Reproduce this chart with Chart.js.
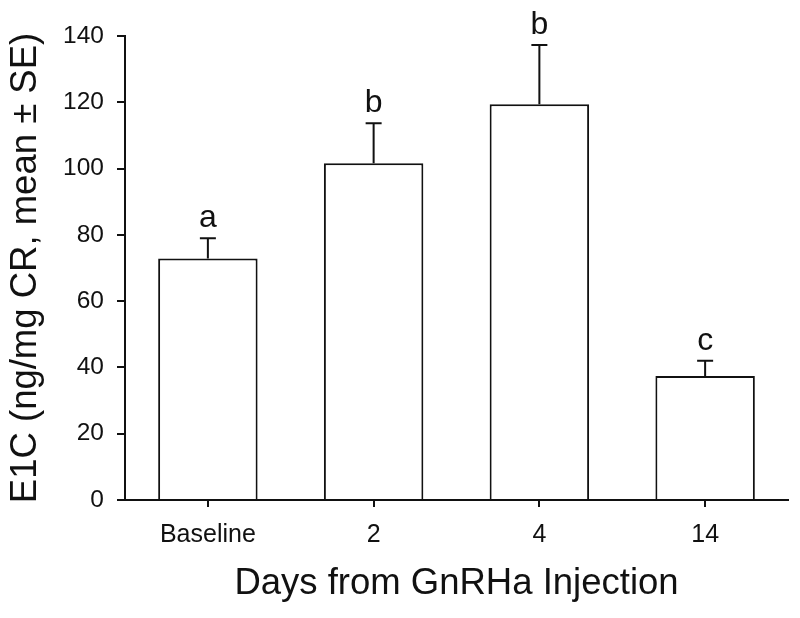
<!DOCTYPE html>
<html>
<head>
<meta charset="utf-8">
<script src="https://cdn.jsdelivr.net/npm/chart.js@4"></script>
<style>
  html, body { margin: 0; padding: 0; background: #fff; }
  #wrap { width: 800px; height: 618px; }
</style>
</head>
<body>
<div id="wrap"><canvas id="myChart" width="800" height="618"></canvas></div>
<script>
'use strict';
// values
let days = ['Baseline', '2', '4', '14'];
let means = [72.9, 101.6, 119.4, 37.4];
let upperSE = [79.0, 113.7, 137.3, 42.0];
let groupLetters = ['a', 'b', 'b', 'c'];
let yTicks = [0, 20, 40, 60, 80, 100, 120, 140];

let fontFam = '"Liberation Sans", Arial, Helvetica, sans-serif';
let ink = '#111';

// draws the upward SE whiskers and the letters above them
let errorBars = {
    id: 'errorBars',
    afterDatasetsDraw(chart) {
        let ctx = chart.ctx;
        let xs = chart.scales.x;
        let ys = chart.scales.y;
        ctx.save();
        ctx.strokeStyle = ink;
        ctx.lineWidth = 2;
        for (let i = 0; i < means.length; i++) {
            let x = xs.getPixelForValue(i);
            let yTop = ys.getPixelForValue(upperSE[i]);
            let yBar = ys.getPixelForValue(means[i]);
            ctx.beginPath();
            ctx.moveTo(x, yBar);
            ctx.lineTo(x, yTop);
            ctx.moveTo(x - 8, yTop);
            ctx.lineTo(x + 8, yTop);
            ctx.stroke();

            ctx.fillStyle = ink;
            ctx.font = '32px ' + fontFam;
            ctx.textAlign = 'center';
            ctx.textBaseline = 'alphabetic';
            ctx.fillText(groupLetters[i], x, yTop - 11);
        }
        ctx.restore();
    }
};

let ctx = document.getElementById('myChart').getContext('2d');
let myChart = new Chart(ctx, {
    type: 'bar',
    data: {
        labels: days,
        datasets: [{
            data: means,
            backgroundColor: '#fff',
            borderColor: ink,
            borderWidth: 2,
            borderSkipped: 'start',
            barPercentage: 0.6,
            categoryPercentage: 1.0
        }]
    },
    options: {
        responsive: false,
        animation: false,
        layout: { padding: { top: 36, right: 12, left: 0, bottom: 0 } },
        plugins: {
            legend: { display: false },
            tooltip: { enabled: false }
        },
        scales: {
            x: {
                grid: {
                    offset: false,
                    drawOnChartArea: false,
                    drawTicks: true,
                    tickLength: 7,
                    color: ink,
                    lineWidth: 2
                },
                border: { color: ink, width: 2 },
                ticks: {
                    color: ink,
                    padding: 13,
                    font: { family: fontFam, size: 25 }
                },
                title: {
                    display: true,
                    text: 'Days from GnRHa Injection',
                    color: ink,
                    font: { family: fontFam, size: 36.5 },
                    padding: { top: 0, bottom: 12 }
                },
                afterFit(scale) { scale.height = 118; }
            },
            y: {
                min: 0,
                max: 140,
                afterBuildTicks(scale) {
                    scale.ticks = yTicks.map(v => ({ value: v }));
                },
                grid: {
                    drawOnChartArea: false,
                    drawTicks: true,
                    tickLength: 8,
                    color: ink,
                    lineWidth: 2
                },
                border: { color: ink, width: 2 },
                ticks: {
                    color: ink,
                    padding: 13,
                    font: { family: fontFam, size: 24.5 }
                },
                title: {
                    display: true,
                    text: 'E1C (ng/mg CR, mean \u00b1 SE)',
                    color: ink,
                    font: { family: fontFam, size: 36.5 },
                    padding: { top: 4, bottom: 0 }
                },
                afterFit(scale) { scale.width = 125; }
            }
        }
    },
    plugins: [errorBars]
});
</script>
</body>
</html>
